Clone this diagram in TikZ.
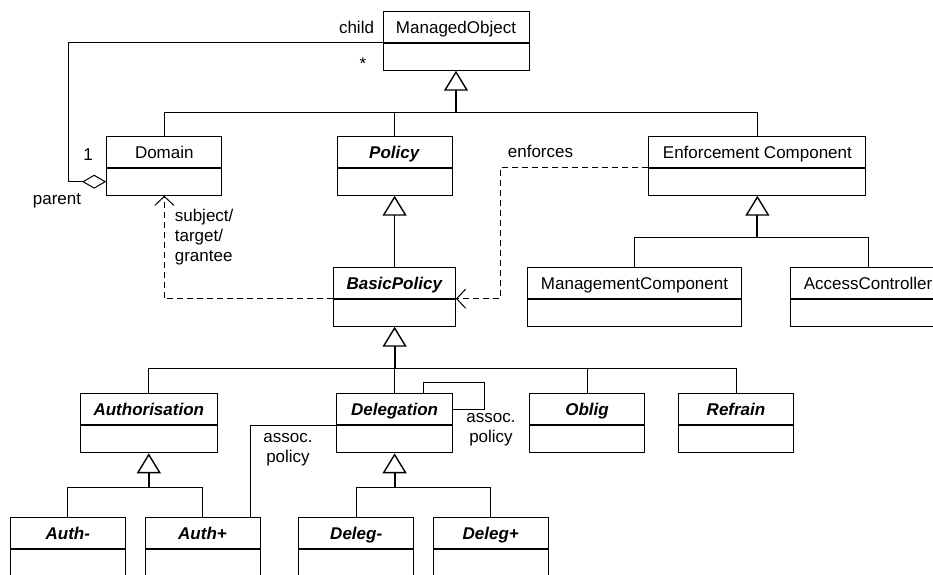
\documentclass[tikz,border=0pt]{standalone}
\usepackage{fontspec}
\setmainfont{Liberation Sans}
\usetikzlibrary{arrows.meta, positioning}

\newcommand{\absname}[1]{\textbf{\textit{#1}}}

\begin{document}
\begin{tikzpicture}[x=1pt, y=-1pt, line width=1pt,
 font=\fontsize{17}{20}\selectfont,
 name box/.style={draw, minimum height=31pt, inner sep=0pt, anchor=north,
   text height=13pt, text depth=0pt},
 attr box/.style={draw, minimum height=27pt, inner sep=0pt, below=0pt of #1},
 gen/.style={-{Triangle[open, length=20pt, width=24pt, line width=1.4pt]}, line width=2pt},
 dep/.style={dash pattern=on 6pt off 4pt, -{Straight Barb[length=9pt, width=19pt, line width=1pt]}},
 agg/.style={{Diamond[open, length=24pt, width=14pt]}-}]

  \useasboundingbox (0,0) rectangle (933,574);
  \clip (0,0) rectangle (933,574);

  % classes: name / centre x / top y / width / text
  \foreach \n/\x/\y/\w/\txt in {mo/456/10.7/146/ManagedObject,
    dom/164.3/135.7/115.3/Domain, pol/394.6/135.7/115.2/\absname{Policy},
    enf/757.4/135.7/217/Enforcement Component,
    bp/394.6/266.7/121.7/\absname{BasicPolicy},
    mgc/634.5/266.7/214/ManagementComponent, acc/868/266.7/156/AccessController,
    auth/148.8/393.3/137/\absname{Authorisation}, del/394.6/393.3/115.5/\absname{Delegation},
    obl/587/393.3/115/\absname{Oblig}, ref/736/393.3/115/\absname{Refrain},
    authm/67.8/517/115.6/\absname{Auth-}, authp/202.5/517/115/\absname{Auth+},
    delm/356.2/517/115/\absname{Deleg-}, delp/490.8/517/115/\absname{Deleg+}} {
    \node[name box, minimum width=\w pt] (\n) at (\x,\y) {\txt};
    \node[attr box=\n, minimum width=\w pt] (\n-a) {};
  }

  % generalisation
  \coordinate (mo-bus) at (456,112.3);
  \coordinate (enf-bus) at (757.4,237.7);
  \coordinate (bp-bus) at (394.6,368.7);
  \coordinate (auth-bus) at (148.8,487.3);
  \coordinate (del-bus) at (394.6,487.3);
  \foreach \s/\t in {dom/mo, pol/mo, enf/mo, mgc/enf, acc/enf, auth/bp, del/bp,
    obl/bp, ref/bp, authm/auth, authp/auth, delm/del, delp/del}
    \draw (\s.north) |- (\t-bus);
  \foreach \t in {mo, enf, bp, auth, del}
    \draw[gen] (\t-bus) -- (\t-a.south);
  \draw[gen, line width=1pt] (bp.north) -- (pol-a.south);

  % dependencies
  \coordinate (enf-turn) at (500.6,0);
  \draw[dep] (bp.south west) -| (dom-a.south);
  \draw[dep] (enf.south west) -| (enf-turn |- bp.south east) -- (bp.south east);

  % associations
  \coordinate (agg-turn) at (68,0);
  \draw[agg] (dom-a.west) -| (agg-turn |- mo.south west) -- (mo.south west);
  \draw ([xshift=48pt]authp.north) |- (del.south west);
  \coordinate (loop) at (484.3,382);
  \draw ([xshift=29pt]del.north) |- (loop) |- (del.east);

  % labels
  \node (child) at (356.5,27) {child};
  \node (many) at (363,64) {*};
  \node (one) at (88,155) {1};
  \node (parent) at (57,201) {parent};
  \node[align=left, anchor=west] (roles) at (171,237) {subject/\\target/\\grantee};
  \node (enforces) at (540.5,151) {enforces};
  \node[align=center] (assoc-l) at (288,450) {assoc.\\policy};
  \node[align=center] (assoc-r) at (491,430) {assoc.\\policy};
\end{tikzpicture}
\end{document}
